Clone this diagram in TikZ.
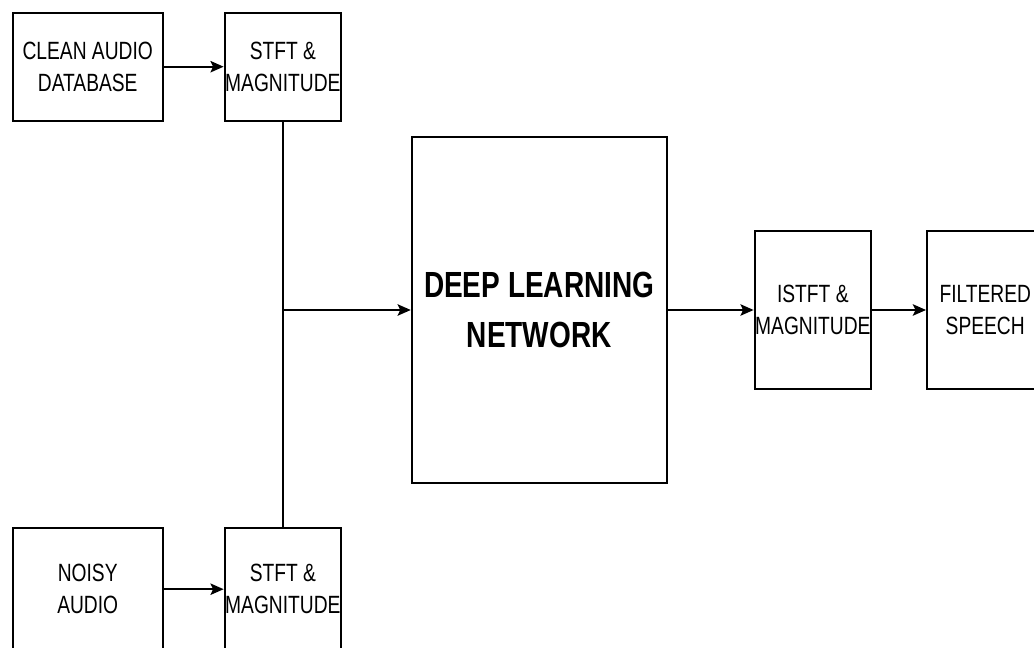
\documentclass[tikz,border=0pt]{standalone}
\usepackage{fontspec}
\setmainfont{Liberation Sans}[FakeStretch=0.77]
\usepackage{tikz}
\usetikzlibrary{arrows.meta, positioning}

\begin{document}
\begin{tikzpicture}[
        x=0.02cm, y=-0.02cm,
        every node/.style={font=\fontsize{14.2pt}{18.2pt}\selectfont},
        box/.style={draw, line width=1.1pt, inner sep=0pt, align=center},
        srcbox/.style={box, minimum width=3cm},
        specbox/.style={box, minimum width=2.33cm},
        netbox/.style={box, minimum width=5.1cm, minimum height=6.91cm,
                       font=\fontsize{20.7pt}{28.5pt}\selectfont\bfseries},
        arr/.style={-{Stealth[length=7.5pt, width=6.5pt, inset=1.5pt]}, line width=1.1pt}
    ]
        \useasboundingbox (0,0) rectangle (1034,648);

        \node[srcbox, minimum height=2.16cm] (clean) at (87.7,66.7) {CLEAN AUDIO\\DATABASE};
        \node[specbox, minimum height=2.16cm] (stfta) [right=1.2cm of clean] {STFT \&\\MAGNITUDE};
        \node[srcbox, minimum height=2.44cm] (noisy) at (87.7,589.2) {NOISY\\AUDIO};
        \node[specbox, minimum height=2.44cm] (stftb) [right=1.2cm of noisy] {STFT \&\\MAGNITUDE};
        \node[netbox] (dl) at (539.2,310) {DEEP LEARNING\\NETWORK};
        \node[specbox, minimum height=3.15cm] (istft) [right=1.72cm of dl] {ISTFT \&\\MAGNITUDE};
        \node[specbox, minimum height=3.15cm] (filt)  [right=1.08cm of istft] {FILTERED\\SPEECH};

        \draw[arr] (clean) -- (stfta);
        \draw[arr] (noisy) -- (stftb);

        % both spectra join and feed the network
        \draw[line width=1.1pt] (stfta.south) -- (stftb.north);
        \coordinate (join) at (stfta.south |- dl.west);
        \draw[arr] (join) -- (dl);

        \draw[arr] (dl)    -- (istft);
        \draw[arr] (istft) -- (filt);
    \end{tikzpicture}
\end{document}
